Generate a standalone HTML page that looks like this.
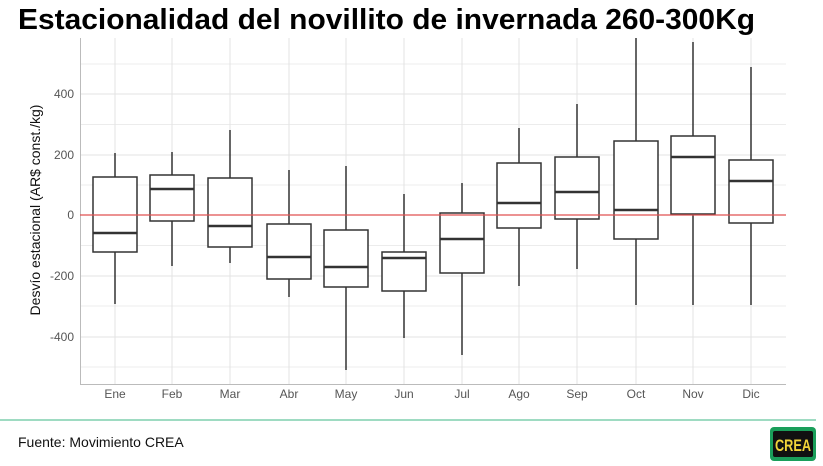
<!DOCTYPE html>
<html><head><meta charset="utf-8"><style>
body{margin:0;background:#fff;}
svg{display:block;font-family:"Liberation Sans",sans-serif;}
</style></head><body>
<svg width="823" height="466" viewBox="0 0 823 466" xmlns="http://www.w3.org/2000/svg">
<rect width="823" height="466" fill="#fff"/>
<text x="18" y="29" font-size="29" font-weight="bold" textLength="737" lengthAdjust="spacingAndGlyphs" fill="#000">Estacionalidad del novillito de invernada 260-300Kg</text>
<g stroke="#ececec" stroke-width="1">
<line x1="80" x2="786" y1="64" y2="64"/><line x1="80" x2="786" y1="124.5" y2="124.5"/><line x1="80" x2="786" y1="185" y2="185"/><line x1="80" x2="786" y1="245.5" y2="245.5"/><line x1="80" x2="786" y1="306" y2="306"/><line x1="80" x2="786" y1="367" y2="367"/>
</g>
<g stroke="#e3e3e3" stroke-width="1">
<line x1="80" x2="786" y1="94" y2="94"/><line x1="80" x2="786" y1="155" y2="155"/><line x1="80" x2="786" y1="276" y2="276"/><line x1="80" x2="786" y1="337" y2="337"/>
<line x1="115" x2="115" y1="38" y2="384"/><line x1="172" x2="172" y1="38" y2="384"/><line x1="230" x2="230" y1="38" y2="384"/><line x1="289" x2="289" y1="38" y2="384"/><line x1="346" x2="346" y1="38" y2="384"/><line x1="404" x2="404" y1="38" y2="384"/><line x1="462" x2="462" y1="38" y2="384"/><line x1="519" x2="519" y1="38" y2="384"/><line x1="577" x2="577" y1="38" y2="384"/><line x1="636" x2="636" y1="38" y2="384"/><line x1="693" x2="693" y1="38" y2="384"/><line x1="751" x2="751" y1="38" y2="384"/>
</g>
<g stroke="#bbb" stroke-width="1"><line x1="80.5" x2="80.5" y1="38" y2="384"/><line x1="80" x2="786" y1="384.5" y2="384.5"/></g>
<g font-size="12" fill="#555" text-anchor="end">
<text x="74" y="98">400</text><text x="74" y="159">200</text><text x="74" y="219">0</text><text x="74" y="280">-200</text><text x="74" y="341">-400</text>
</g>
<g font-size="12" fill="#555" text-anchor="middle">
<text x="115" y="398">Ene</text><text x="172" y="398">Feb</text><text x="230" y="398">Mar</text><text x="289" y="398">Abr</text><text x="346" y="398">May</text><text x="404" y="398">Jun</text><text x="462" y="398">Jul</text><text x="519" y="398">Ago</text><text x="577" y="398">Sep</text><text x="636" y="398">Oct</text><text x="693" y="398">Nov</text><text x="751" y="398">Dic</text>
</g>
<text transform="translate(40,210) rotate(-90)" font-size="14" fill="#111" text-anchor="middle">Desvío estacional (AR$ const./kg)</text>
<g stroke="#333" stroke-width="1.5" fill="#fff">
<line x1="115" x2="115" y1="153" y2="304"/><rect x="93" y="177" width="44" height="75"/><line x1="93" x2="137" y1="233" y2="233" stroke-width="2.5"/>
<line x1="172" x2="172" y1="152" y2="266"/><rect x="150" y="175" width="44" height="46"/><line x1="150" x2="194" y1="189" y2="189" stroke-width="2.5"/>
<line x1="230" x2="230" y1="130" y2="263"/><rect x="208" y="178" width="44" height="69"/><line x1="208" x2="252" y1="226" y2="226" stroke-width="2.5"/>
<line x1="289" x2="289" y1="170" y2="297"/><rect x="267" y="224" width="44" height="55"/><line x1="267" x2="311" y1="257" y2="257" stroke-width="2.5"/>
<line x1="346" x2="346" y1="166" y2="370"/><rect x="324" y="230" width="44" height="57"/><line x1="324" x2="368" y1="267" y2="267" stroke-width="2.5"/>
<line x1="404" x2="404" y1="194" y2="338"/><rect x="382" y="252" width="44" height="39"/><line x1="382" x2="426" y1="258" y2="258" stroke-width="2.5"/>
<line x1="462" x2="462" y1="183" y2="355"/><rect x="440" y="213" width="44" height="60"/><line x1="440" x2="484" y1="239" y2="239" stroke-width="2.5"/>
<line x1="519" x2="519" y1="128" y2="286"/><rect x="497" y="163" width="44" height="65"/><line x1="497" x2="541" y1="203" y2="203" stroke-width="2.5"/>
<line x1="577" x2="577" y1="104" y2="269"/><rect x="555" y="157" width="44" height="62"/><line x1="555" x2="599" y1="192" y2="192" stroke-width="2.5"/>
<line x1="636" x2="636" y1="38" y2="305"/><rect x="614" y="141" width="44" height="98"/><line x1="614" x2="658" y1="210" y2="210" stroke-width="2.5"/>
<line x1="693" x2="693" y1="42" y2="305"/><rect x="671" y="136" width="44" height="78"/><line x1="671" x2="715" y1="157" y2="157" stroke-width="2.5"/>
<line x1="751" x2="751" y1="67" y2="305"/><rect x="729" y="160" width="44" height="63"/><line x1="729" x2="773" y1="181" y2="181" stroke-width="2.5"/>
</g>
<line x1="80" x2="786" y1="215" y2="215" stroke="#e05050" stroke-width="1.2"/>
<line x1="0" x2="816" y1="420" y2="420" stroke="#7fcfae" stroke-width="1.5"/>
<text x="18" y="447" font-size="14" fill="#111">Fuente: Movimiento CREA</text>
<rect x="770" y="427" width="46" height="34" rx="4" fill="#1a9e5a"/>
<rect x="773" y="431" width="40" height="26" rx="2" fill="#111"/>
<text x="793" y="451" font-size="17" font-weight="bold" fill="#f2d43a" text-anchor="middle" textLength="36" lengthAdjust="spacingAndGlyphs">CREA</text>
</svg>
</body></html>
